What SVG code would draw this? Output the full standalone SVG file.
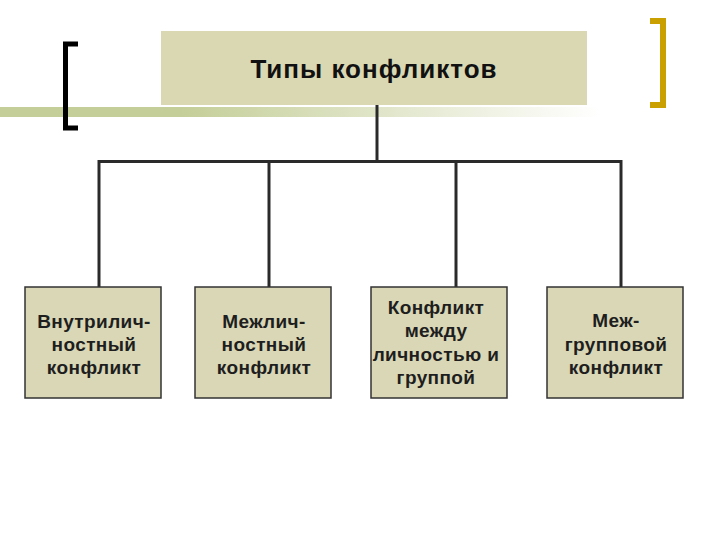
<svg xmlns="http://www.w3.org/2000/svg" width="720" height="540" viewBox="0 0 720 540">
<defs>
<linearGradient id="band" x1="0" y1="0" x2="600" y2="0" gradientUnits="userSpaceOnUse">
<stop offset="0" stop-color="#C4CE98"/>
<stop offset="0.3" stop-color="#C4CE98"/>
<stop offset="1" stop-color="#C4CE98" stop-opacity="0"/>
</linearGradient>
<style>
.box{fill:#D9D7B5;stroke:#333;stroke-width:1.5}
.lbl{font-family:"Liberation Sans",Arial,sans-serif;font-weight:bold;font-size:19px;letter-spacing:0.4px;fill:#1e1e1e;text-anchor:middle}
.title{font-family:"Liberation Sans",Arial,sans-serif;font-weight:bold;font-size:26px;letter-spacing:1px;fill:#111;text-anchor:middle}
.conn{stroke:#2a2a2a;stroke-width:3;fill:none}
</style>
</defs>
<rect width="720" height="540" fill="#fff"/>
<rect x="0" y="107" width="600" height="10" fill="url(#band)"/>
<path d="M78 44 H65.5 V128 H78" fill="none" stroke="#000" stroke-width="5"/>
<path d="M650 21 H663 V105 H650" fill="none" stroke="#C9A000" stroke-width="6"/>
<g id="connectors">
<path class="conn" d="M377 105 V161.5"/>
<path class="conn" d="M99 161.5 H621"/>
<path class="conn" d="M99 160 V287"/>
<path class="conn" d="M269 160 V287"/>
<path class="conn" d="M456 160 V287"/>
<path class="conn" d="M621 160 V287"/>
</g>
<g id="title">
<rect x="161" y="31" width="426" height="74" fill="#DAD8B3"/>
<text class="title" x="374" y="78">Типы конфликтов</text>
</g>
<g id="n1">
<rect class="box" x="25" y="287" width="136" height="111"/>
<text class="lbl" x="94" y="328">Внутрилич-</text>
<text class="lbl" x="94" y="351">ностный</text>
<text class="lbl" x="94" y="374">конфликт</text>
</g>
<g id="n2">
<rect class="box" x="195" y="287" width="136" height="111"/>
<text class="lbl" x="264" y="328">Межлич-</text>
<text class="lbl" x="264" y="351">ностный</text>
<text class="lbl" x="264" y="374">конфликт</text>
</g>
<g id="n3">
<rect class="box" x="371" y="287" width="136" height="111"/>
<text class="lbl" x="436" y="314">Конфликт</text>
<text class="lbl" x="436" y="337">между</text>
<text class="lbl" x="436" y="361">личностью и</text>
<text class="lbl" x="436" y="384">группой</text>
</g>
<g id="n4">
<rect class="box" x="547" y="287" width="136" height="111"/>
<text class="lbl" x="616" y="327">Меж-</text>
<text class="lbl" x="616" y="351">групповой</text>
<text class="lbl" x="616" y="374">конфликт</text>
</g>
</svg>
